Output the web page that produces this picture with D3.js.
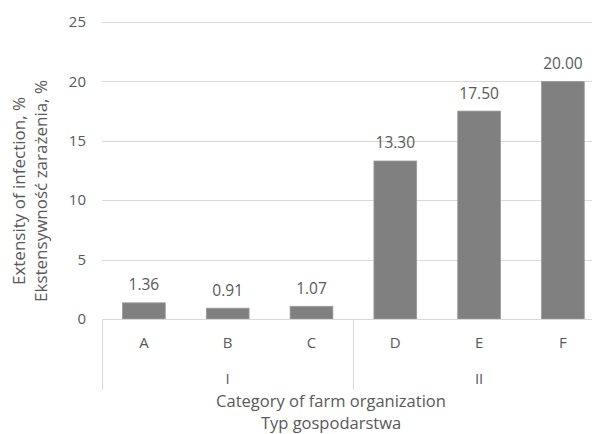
<!DOCTYPE html>
<html>
<head>
<meta charset="utf-8">
<script src="https://cdn.jsdelivr.net/npm/d3@7"></script>
<style>
  body { margin: 0; background: #fff; }
  svg text { font-family: "Open Sans", "Noto Sans", sans-serif; fill: #595959; }
</style>
</head>
<body>
<svg id="chart"></svg>
<script>
var width = 592;
var height = 434;

var categories = ["A", "B", "C", "D", "E", "F"];
var groups = ["I", "I", "I", "II", "II", "II"];
var values = [1.36, 0.91, 1.07, 13.30, 17.50, 20.00];
var yTicks = [0, 5, 10, 15, 20, 25];

var left = 102;
var step = 83.8;
var y0 = 319;
var yTop = 22;

var svg = d3.select("#chart")
    .attr("width", width)
    .attr("height", height);

var x = d3.scaleBand()
    .domain(categories)
    .range([left, left + step * categories.length])
    .paddingInner(0.49)
    .paddingOuter(0.245);

var y = d3.scaleLinear()
    .domain([0, 25])
    .range([y0, yTop]);

// gridlines
svg.selectAll(".grid")
    .data(yTicks)
    .enter()
    .append("line")
    .attr("x1", left)
    .attr("x2", width)
    .attr("y1", function (d) { return Math.round(y(d)) + 0.5; })
    .attr("y2", function (d) { return Math.round(y(d)) + 0.5; })
    .attr("stroke", "#d9d9d9")
    .attr("stroke-width", 1);

// y tick labels
svg.selectAll(".ytick")
    .data(yTicks)
    .enter()
    .append("text")
    .attr("x", 86)
    .attr("y", function (d) { return y(d); })
    .attr("dy", "0.35em")
    .attr("text-anchor", "end")
    .attr("font-size", "15px")
    .text(function (d) { return d; });

// bars
svg.selectAll(".bar")
    .data(values)
    .enter()
    .append("rect")
    .attr("x", function (d, i) { return x(categories[i]); })
    .attr("y", function (d) { return y(d); })
    .attr("width", x.bandwidth())
    .attr("height", function (d) { return y0 - y(d); })
    .attr("fill", "#808080")
    .attr("stroke", "#9a9a9a")
    .attr("stroke-width", 0.8);

// value labels
svg.selectAll(".val")
    .data(values)
    .enter()
    .append("text")
    .attr("x", function (d, i) { return x(categories[i]) + x.bandwidth() / 2; })
    .attr("y", function (d) { return y(d) - 12.5; })
    .attr("text-anchor", "middle")
    .attr("font-size", "15.5px")
    .text(function (d) { return d.toFixed(2); });

// category axis line and dividers
svg.append("line")
    .attr("x1", left)
    .attr("x2", width)
    .attr("y1", y0 + 0.5)
    .attr("y2", y0 + 0.5)
    .attr("stroke", "#d9d9d9");

var dividers = [0, 3, 6];
svg.selectAll(".div")
    .data(dividers)
    .enter()
    .append("line")
    .attr("x1", function (d) { return Math.round(left + d * step) + 0.5; })
    .attr("x2", function (d) { return Math.round(left + d * step) + 0.5; })
    .attr("y1", y0)
    .attr("y2", 390)
    .attr("stroke", "#d9d9d9");

// category labels
svg.selectAll(".cat")
    .data(categories)
    .enter()
    .append("text")
    .attr("x", function (d) { return x(d) + x.bandwidth() / 2; })
    .attr("y", 348)
    .attr("text-anchor", "middle")
    .attr("font-size", "15px")
    .text(function (d) { return d; });

// group labels
var groupNames = [];
for (var i = 0; i < groups.length; i++) {
    if (groupNames.indexOf(groups[i]) === -1) {
        groupNames.push(groups[i]);
    }
}
svg.selectAll(".grp")
    .data(groupNames)
    .enter()
    .append("text")
    .attr("x", function (g) {
        var first = groups.indexOf(g);
        var last = groups.lastIndexOf(g);
        return (x(categories[first]) + x(categories[last]) + x.bandwidth()) / 2;
    })
    .attr("y", 384)
    .attr("text-anchor", "middle")
    .attr("font-size", "15px")
    .text(function (d) { return d; });

// x axis title
svg.append("text")
    .attr("x", 331)
    .attr("y", 406.5)
    .attr("text-anchor", "middle")
    .attr("font-size", "16.5px")
    .text("Category of farm organization");
svg.append("text")
    .attr("x", 331)
    .attr("y", 429)
    .attr("text-anchor", "middle")
    .attr("font-size", "16.5px")
    .text("Typ gospodarstwa");

// y axis title
var yTitle = svg.append("g")
    .attr("transform", "translate(0,191) rotate(-90)");
yTitle.append("text")
    .attr("x", 0)
    .attr("y", 25)
    .attr("text-anchor", "middle")
    .attr("font-size", "17px")
    .text("Extensity of infection, %");
yTitle.append("text")
    .attr("x", 0)
    .attr("y", 47)
    .attr("text-anchor", "middle")
    .attr("font-size", "17px")
    .text("Ekstensywność zarażenia, %");
</script>
</body>
</html>
